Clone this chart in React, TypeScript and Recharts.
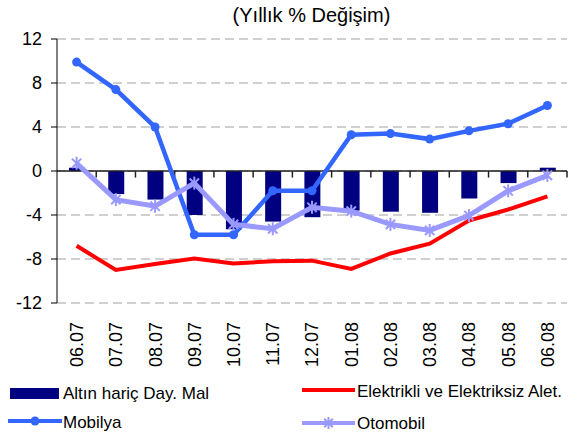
import React from "react";
import {
  ComposedChart,
  Bar,
  Line,
  XAxis,
  YAxis,
  CartesianGrid,
  ReferenceLine,
} from "recharts";

const categories = [
  "06.07", "07.07", "08.07", "09.07", "10.07", "11.07", "12.07",
  "01.08", "02.08", "03.08", "04.08", "05.08", "06.08",
];
const altinHaricDayMal = [0.3, -2.1, -2.6, -4.0, -5.3, -4.6, -4.2, -3.6, -3.7, -3.8, -2.5, -1.1, 0.3];
const elektrikli = [-6.8, -9.0, -8.45, -7.95, -8.4, -8.2, -8.15, -8.9, -7.5, -6.6, -4.5, -3.5, -2.3];
const mobilya = [9.9, 7.4, 4.0, -5.8, -5.8, -1.8, -1.8, 3.3, 3.4, 2.9, 3.65, 4.3, 5.95];
const otomobil = [0.7, -2.6, -3.2, -1.1, -4.85, -5.25, -3.3, -3.65, -4.85, -5.4, -4.05, -1.8, -0.4];
const yTicks = [-12, -8, -4, 0, 4, 8, 12];
const boundaryTicks = [1, 2, 3, 4, 5, 6, 7, 8, 9, 10, 11, 12, 13];

const seriesNames = {
  bar: "Altın hariç Day. Mal",
  red: "Elektrikli ve Elektriksiz Alet.",
  mob: "Mobilya",
  oto: "Otomobil",
};

const data = categories.map((c, i) => ({
  idx: i + 0.5,
  name: c,
  bar: altinHaricDayMal[i],
  red: elektrikli[i],
  mob: mobilya[i],
  oto: otomobil[i],
}));

const FONT = "'Liberation Sans', Arial, Helvetica, sans-serif";
const NAVY = "#000080";
const RED = "#FF0000";
const BLUE = "#3366FF";
const LILAC = "#9999FF";

const Star = (props: any) => {
  const { cx, cy, s = 6.5, key } = props;
  if (cx == null || cy == null) return null;
  const d = s * 0.72;
  return (
    <g key={key} stroke={LILAC} strokeWidth={2}>
      <line x1={cx} y1={cy - s} x2={cx} y2={cy + s} />
      <line x1={cx - d} y1={cy - d} x2={cx + d} y2={cy + d} />
      <line x1={cx - d} y1={cy + d} x2={cx + d} y2={cy - d} />
    </g>
  );
};

const XTick = (props: any) => {
  const { x, y, payload } = props;
  return (
    <text
      x={x}
      y={y}
      transform={`rotate(-90 ${x} ${y})`}
      textAnchor="end"
      dy="0.36em"
      fontSize={18}
      fontFamily={FONT}
      fill="#000"
    >
      {payload.value}
    </text>
  );
};

export default function App() {
  return (
    <div style={{ position: "absolute", left: 0, top: 0, width: 580, height: 437, background: "#fff" }}>
      <ComposedChart
        width={580}
        height={437}
        data={data}
        margin={{ top: 39, right: 13, left: 0, bottom: 64 }}
      >
        <CartesianGrid vertical={false} stroke="#a0a0a0" strokeDasharray="9 5" />
        <XAxis
          dataKey="name"
          height={70}
          axisLine={false}
          tickLine={false}
          tickSize={6}
          tickMargin={13}
          interval={0}
          tick={<XTick />}
        />
        <XAxis xAxisId="b" type="number" dataKey="idx" domain={[0, 13]} hide />
        <YAxis
          domain={[-12, 12]}
          ticks={yTicks}
          width={57}
          interval={0}
          axisLine={{ stroke: "#000" }}
          tickLine={{ stroke: "#000" }}
          tickSize={6}
          tickMargin={9}
          tick={{ fontSize: 18, fill: "#000", fontFamily: FONT }}
        />
        <Bar dataKey="bar" name={seriesNames.bar} fill={NAVY} barSize={16} isAnimationActive={false} />
        <ReferenceLine y={0} stroke="#222" strokeWidth={1.5} />
        {boundaryTicks.map((k) => (
          <ReferenceLine
            key={k}
            xAxisId="b"
            segment={[{ x: k, y: 0 }, { x: k, y: -0.6 }]}
            stroke="#222"
            strokeWidth={1.5}
          />
        ))}
        <Line
          dataKey="red"
          name={seriesNames.red}
          stroke={RED}
          strokeWidth={4}
          dot={false}
          isAnimationActive={false}
        />
        <Line
          dataKey="mob"
          name={seriesNames.mob}
          stroke={BLUE}
          strokeWidth={4.5}
          dot={{ r: 4.5, fill: BLUE, stroke: "none" }}
          isAnimationActive={false}
        />
        <Line
          dataKey="oto"
          name={seriesNames.oto}
          stroke={LILAC}
          strokeWidth={5}
          dot={(p: any) => <Star key={p.index} cx={p.cx} cy={p.cy} />}
          isAnimationActive={false}
        />
      </ComposedChart>
      <svg
        width={580}
        height={437}
        style={{ position: "absolute", left: 0, top: 0, pointerEvents: "none" }}
      >
        <text x={311.5} y={15} textAnchor="middle" dominantBaseline="central" fontSize={20} fontFamily={FONT} fill="#000">
          (Yıllık % Değişim)
        </text>
        <rect x={10} y={388} width={49} height={11} fill={NAVY} />
        <text x={63} y={393.5} dominantBaseline="central" fontSize={17} fontFamily={FONT} fill="#000">
          {seriesNames.bar}
        </text>
        <line x1={302} y1={390} x2={355} y2={390} stroke={RED} strokeWidth={4} />
        <text x={357} y={391.5} dominantBaseline="central" fontSize={17} fontFamily={FONT} fill="#000">
          {seriesNames.red}
        </text>
        <line x1={8} y1={421} x2={62} y2={421} stroke={BLUE} strokeWidth={4} />
        <circle cx={35} cy={421} r={4.5} fill={BLUE} />
        <text x={63} y={422.5} dominantBaseline="central" fontSize={17} fontFamily={FONT} fill="#000">
          {seriesNames.mob}
        </text>
        <line x1={302} y1={423} x2={355} y2={423} stroke={LILAC} strokeWidth={4} />
        <Star cx={328.5} cy={423} s={6} />
        <text x={357} y={423.5} dominantBaseline="central" fontSize={17} fontFamily={FONT} fill="#000">
          {seriesNames.oto}
        </text>
      </svg>
    </div>
  );
}
